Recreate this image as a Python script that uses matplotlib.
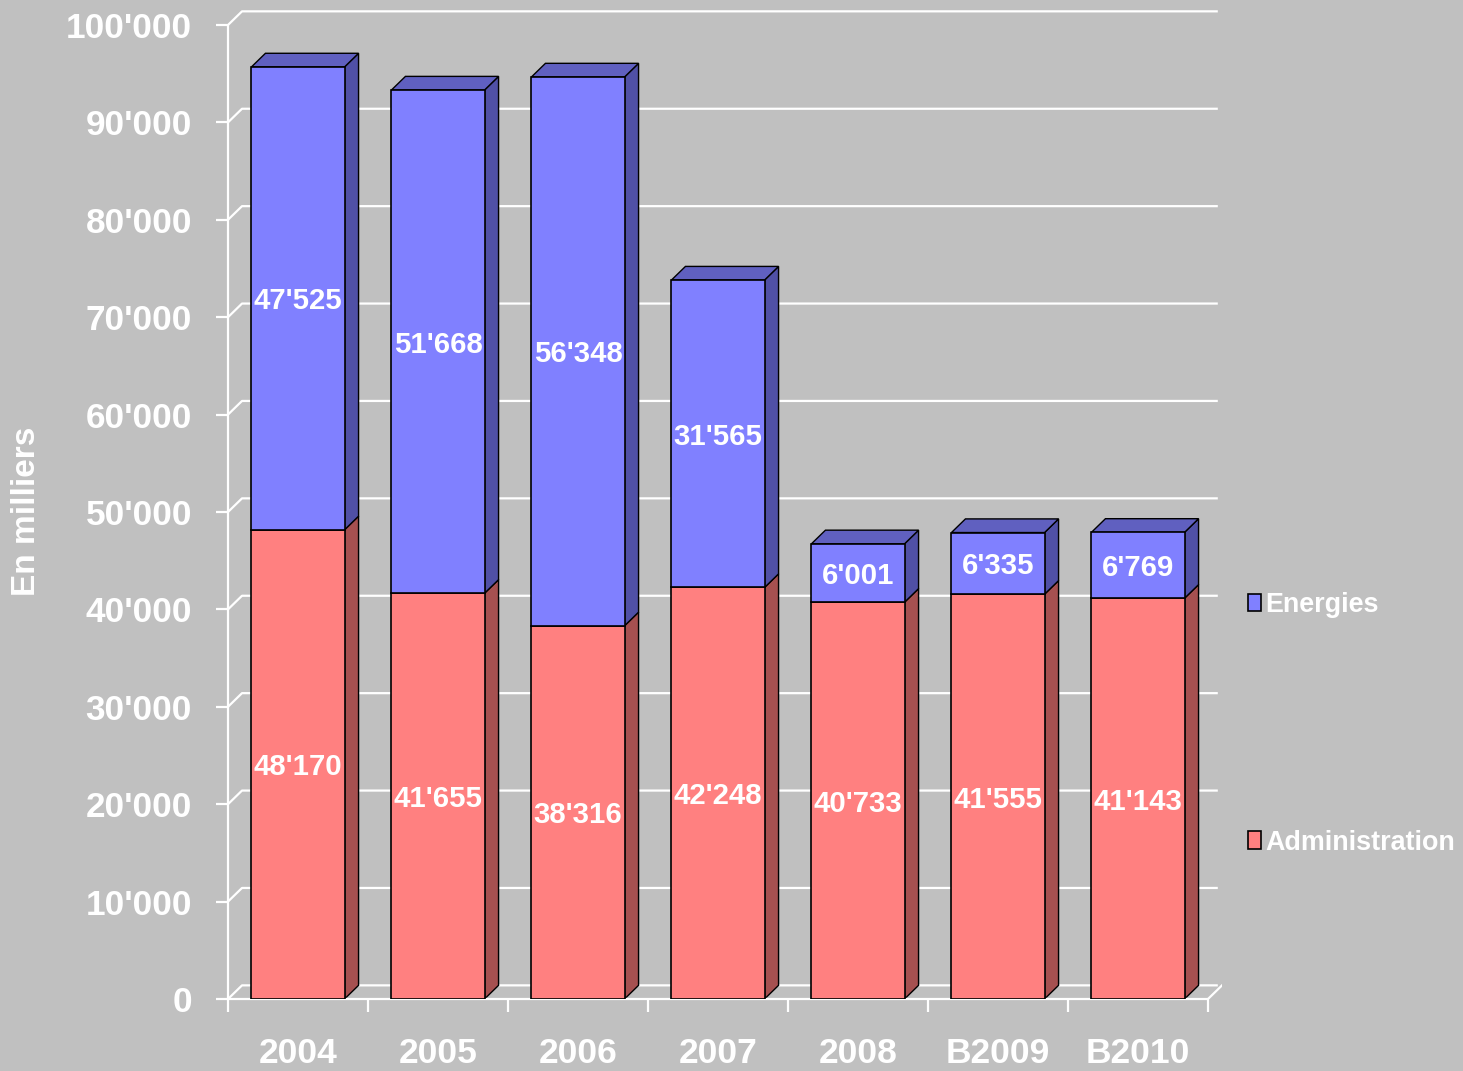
import matplotlib
matplotlib.use('Agg')
import matplotlib.pyplot as plt
from matplotlib.patches import Polygon, Patch
from matplotlib.ticker import FuncFormatter, MultipleLocator, FixedLocator

plt.rcParams['font.family'] = ['Liberation Sans', 'DejaVu Sans']
plt.rcParams['font.weight'] = 'bold'

# data (en milliers)
years = ['2004', '2005', '2006', '2007', '2008', 'B2009', 'B2010']
administration = [48170, 41655, 38316, 42248, 40733, 41555, 41143]
energies = [47525, 51668, 56348, 31565, 6001, 6335, 6769]

BG = '#C0C0C0'
BLUE = '#8080FF'
BLUE_SIDE = '#5050A6'
BLUE_TOP = '#6060C0'
RED = '#FF8080'
RED_SIDE = '#A65050'

W = 0.665       # bar width (category units)
DX = 0.1        # depth offset, x
DY = 1400       # depth offset, y
XR = len(years) - 0.5 + DX


def sep(v):
    return f'{int(v):,}'.replace(',', "'")


fig = plt.figure(figsize=(14.63, 10.71), dpi=100, facecolor=BG)
ax = fig.add_axes([228 / 1463, 72 / 1071, 994 / 1463, 993.5 / 1071])
ax.set_facecolor(BG)
ax.set_xlim(-0.5, XR)
ax.set_ylim(0, 102000)

# back wall gridlines with the side-wall diagonal
for v in range(0, 100001, 10000):
    ax.plot([-0.5, -0.5 + DX, XR - 0.03], [v, v + DY, v + DY],
            color='white', lw=1.6, zorder=1, solid_capstyle='butt')
# floor right edge
ax.plot([len(years) - 0.5, XR], [0, DY], color='white', lw=1.6, zorder=1)


def side(x, b, t, fc):
    pts = [(x + W / 2, b), (x + W / 2 + DX, b + DY),
           (x + W / 2 + DX, t + DY), (x + W / 2, t)]
    ax.add_patch(Polygon(pts, closed=True, facecolor=fc, edgecolor='black',
                         lw=1.0, zorder=2.5))


def top(x, t, fc):
    pts = [(x - W / 2, t), (x - W / 2 + DX, t + DY),
           (x + W / 2 + DX, t + DY), (x + W / 2, t)]
    ax.add_patch(Polygon(pts, closed=True, facecolor=fc, edgecolor='black',
                         lw=1.0, zorder=2.5))


xs = list(range(len(years)))
ax.bar(xs, administration, width=W, color=RED, edgecolor='black',
       lw=1.2, zorder=3)
ax.bar(xs, energies, width=W, bottom=administration, color=BLUE,
       edgecolor='black', lw=1.2, zorder=3)

for x, a, e in zip(xs, administration, energies):
    side(x, 0, a, RED_SIDE)
    side(x, a, a + e, BLUE_SIDE)
    top(x, a + e, BLUE_TOP)
    ax.text(x, a / 2, sep(a), ha='center', va='center_baseline',
            color='white', fontsize=21.2, fontweight='bold', zorder=5)
    ax.text(x, a + e / 2, sep(e), ha='center', va='center_baseline',
            color='white', fontsize=21.2, fontweight='bold', zorder=5)

# axes styling
for s in ['top', 'right']:
    ax.spines[s].set_visible(False)
ax.spines['left'].set_bounds(0, 100000)
ax.spines['bottom'].set_bounds(-0.5, len(years) - 0.5)
for s in ['left', 'bottom']:
    ax.spines[s].set_color('white')
    ax.spines[s].set_linewidth(1.6)

ax.yaxis.set_major_locator(MultipleLocator(10000))
ax.yaxis.set_major_formatter(FuncFormatter(lambda v, p: sep(v)))
ax.set_yticks(range(0, 100001, 10000))
ax.tick_params(axis='y', colors='white', length=9, width=1.6, pad=17,
               labelsize=25.3)

ax.set_xticks(xs)
ax.set_xticklabels(years)
ax.xaxis.set_minor_locator(FixedLocator([i - 0.5 for i in range(len(years) + 1)]))
ax.tick_params(axis='x', which='major', length=0, pad=27.5, colors='white',
               labelsize=25.5)
ax.tick_params(axis='x', which='minor', length=9, width=1.6, color='white')

fig.text(27 / 1463, 1 - 511 / 1071, 'En milliers', rotation=90,
         ha='center', va='center', color='white', fontsize=24,
         fontweight='bold')

handles = [Patch(facecolor=BLUE, edgecolor='black', lw=1.2, label='Energies'),
           Patch(facecolor=RED, edgecolor='black', lw=1.2, label='Administration')]
fig.legend(handles=handles, loc='upper left',
           bbox_to_anchor=(1248 / 1463, 1 - 592 / 1071),
           frameon=False, fontsize=19.4, labelcolor='white',
           handlelength=0.5, handleheight=0.6, handletextpad=0.15,
           labelspacing=7.85, borderpad=0, borderaxespad=0)

fig.savefig('out.png', dpi=100, facecolor=BG)
